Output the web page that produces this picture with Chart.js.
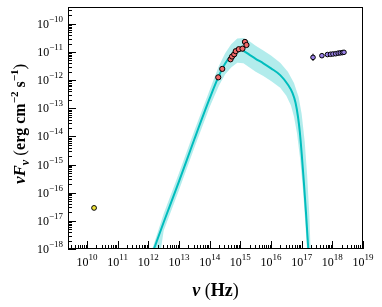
<!DOCTYPE html>
<html>
<head>
<meta charset="utf-8">
<script src="https://cdn.jsdelivr.net/npm/chart.js@4.4.0/dist/chart.umd.min.js"></script>
<style>
  html, body { margin: 0; padding: 0; background: #fff; }
  #wrap { width: 382px; height: 307px; }
</style>
</head>
<body>
<div id="wrap"><canvas id="sed"></canvas></div>
<script>
// log10 of frequency (Hz) and log10 of nuFnu (erg cm^-2 s^-1)
const modelLogNu = [12.0, 12.5, 13.0, 13.5, 14.0, 14.3, 14.5, 14.7, 14.85, 14.95, 15.1, 15.3, 15.5, 15.75, 16.0, 16.3, 16.56, 16.7, 16.8, 16.88, 16.94, 17.0, 17.07, 17.14, 17.21, 17.26];
const modelLogF  = [-18.55, -17.05, -15.6, -14.1, -12.65, -11.85, -11.42, -11.12, -10.97, -10.92, -10.96, -11.1, -11.24, -11.4, -11.58, -11.82, -12.17, -12.45, -12.8, -13.3, -13.85, -14.6, -15.6, -16.7, -17.9, -18.8];

// uncertainty band edges
const bandUpLogNu = [11.95, 12.5, 13.0, 13.5, 14.0, 14.3, 14.5, 14.7, 14.9, 15.1, 15.3, 15.5, 15.75, 16.0, 16.3, 16.55, 16.75, 16.9, 17.0, 17.1, 17.18, 17.25, 17.3, 17.33];
const bandUpLogF  = [-18.6, -16.75, -15.3, -13.8, -12.35, -11.5, -11.05, -10.72, -10.52, -10.5, -10.62, -10.78, -10.95, -11.12, -11.38, -11.7, -12.1, -12.6, -13.2, -14.2, -15.4, -16.8, -18.3, -18.8];
const bandLoLogNu = [12.3, 12.5, 13.0, 13.5, 14.0, 14.3, 14.5, 14.7, 14.9, 15.1, 15.3, 15.5, 15.75, 16.0, 16.3, 16.5, 16.65, 16.75, 16.85, 16.95, 17.05, 17.12, 17.18, 17.2];
const bandLoLogF  = [-18.8, -17.35, -15.9, -14.4, -12.95, -12.2, -11.8, -11.55, -11.38, -11.4, -11.55, -11.7, -11.85, -12.03, -12.27, -12.55, -12.9, -13.3, -13.9, -14.8, -16.0, -17.1, -18.1, -18.8];

const radioLogNu = [10.23];
const radioLogF  = [-16.54];

const optLogNu = [14.28, 14.41, 14.68, 14.73, 14.80, 14.85, 14.95, 15.07, 15.15, 15.20];
const optLogF  = [-11.90, -11.60, -11.26, -11.16, -11.08, -10.97, -10.90, -10.88, -10.64, -10.75];

const xrayLogNu = [17.37, 17.66, 17.84, 17.94, 18.02, 18.11, 18.19, 18.26, 18.33, 18.38];
const xrayLogF  = [-11.19, -11.13, -11.09, -11.08, -11.07, -11.06, -11.04, -11.03, -11.02, -11.01];
const xrayErrF  = [0.13, 0, 0, 0, 0, 0, 0, 0, 0, 0];

const xTickExp = [10, 11, 12, 13, 14, 15, 16, 17, 18, 19];
const yTickExp = [-18, -17, -16, -15, -14, -13, -12, -11, -10];

const pts = (lx, ly) => lx.map((v, i) => ({ x: 10 ** v, y: 10 ** ly[i] }));

const bandShape = pts(bandUpLogNu, bandUpLogF).concat(pts(bandLoLogNu, bandLoLogF).reverse());

const errSegs = [];
xrayLogNu.forEach((v, i) => {
  if (xrayErrF[i] > 0) {
    errSegs.push({ x: 10 ** v, y: 10 ** (xrayLogF[i] - xrayErrF[i]) });
    errSegs.push({ x: 10 ** v, y: 10 ** (xrayLogF[i] + xrayErrF[i]) });
    errSegs.push({ x: 10 ** v, y: null });
  }
});

const SERIF = '"Liberation Serif", "DejaVu Serif", serif';

function drawPieces(ctx, pieces, x0, y0) {
  let x = x0;
  pieces.forEach(p => {
    ctx.font = p.font;
    ctx.fillText(p.t, x, y0 + (p.dy || 0));
    x += ctx.measureText(p.t).width;
  });
}
function piecesWidth(ctx, pieces) {
  let w = 0;
  pieces.forEach(p => { ctx.font = p.font; w += ctx.measureText(p.t).width; });
  return w;
}

const axesPlugin = {
  id: 'axesPlugin',
  afterDraw(chart) {
    const ctx = chart.ctx;
    const a = chart.chartArea;
    const xs = chart.scales.x, ys = chart.scales.y;
    ctx.save();
    ctx.strokeStyle = '#000';
    ctx.fillStyle = '#000';
    ctx.lineWidth = 1;
    ctx.strokeRect(a.left + 0.5, a.top + 0.5, a.right - a.left - 1, a.bottom - a.top - 1);

    // inward ticks
    ctx.beginPath();
    for (let n = 9; n <= 19; n++) {
      for (let k = 1; k <= 9; k++) {
        const v = k * 10 ** n;
        if (v < xs.min || v > xs.max) continue;
        const px = Math.round(xs.getPixelForValue(v)) + 0.5;
        const len = k === 1 ? 8 : 4;
        ctx.moveTo(px, a.bottom);
        ctx.lineTo(px, a.bottom - len);
      }
    }
    for (let n = -19; n <= -9; n++) {
      for (let k = 1; k <= 9; k++) {
        const v = k * 10 ** n;
        if (v < ys.min || v > ys.max) continue;
        const py = Math.round(ys.getPixelForValue(v)) + 0.5;
        const len = k === 1 ? 8 : 4;
        ctx.moveTo(a.left, py);
        ctx.lineTo(a.left + len, py);
      }
    }
    ctx.stroke();

    // tick labels
    const base = '12px ' + SERIF, sup = '9px ' + SERIF;
    ctx.textBaseline = 'alphabetic';
    xTickExp.forEach(e => {
      const px = xs.getPixelForValue(10 ** e);
      const pcs = [{ t: '10', font: base }, { t: String(e), font: sup, dy: -6 }];
      const w = piecesWidth(ctx, pcs);
      drawPieces(ctx, pcs, px - w / 2, a.bottom + 17);
    });
    yTickExp.forEach(e => {
      const py = ys.getPixelForValue(10 ** e);
      const pcs = [{ t: '10', font: base }, { t: '\u2212' + String(-e), font: sup, dy: -6 }];
      const w = piecesWidth(ctx, pcs);
      drawPieces(ctx, pcs, a.left - 5 - w, py + 4);
    });

    // axis titles
    const bi = s => 'italic bold ' + s + 'px ' + SERIF;
    const b = s => 'bold ' + s + 'px ' + SERIF;
    const r = s => s + 'px ' + SERIF;
    const xt = [{ t: '\u03bd', font: bi(18) }, { t: ' (', font: r(18) }, { t: 'Hz', font: b(18) }, { t: ')', font: r(18) }];
    const xw = piecesWidth(ctx, xt);
    drawPieces(ctx, xt, (a.left + a.right) / 2 - xw / 2, 296);

    const yt = [
      { t: '\u03bd', font: bi(17) }, { t: 'F', font: bi(17) }, { t: '\u03bd', font: bi(12), dy: 4 },
      { t: ' (', font: r(17) }, { t: 'erg cm', font: b(16) }, { t: '\u22122', font: b(11), dy: -7 },
      { t: ' s', font: b(16) }, { t: '\u22121', font: b(11), dy: -7 }, { t: ')', font: r(17) }
    ];
    const yw = piecesWidth(ctx, yt);
    ctx.translate(25, 124);
    ctx.rotate(-Math.PI / 2);
    drawPieces(ctx, yt, -yw / 2, 0);
    ctx.restore();
  }
};

new Chart(document.getElementById('sed'), {
  type: 'scatter',
  data: {
    datasets: [
      {
        label: 'band',
        data: bandShape,
        showLine: true,
        fill: 'shape',
        backgroundColor: 'rgba(0,191,191,0.3)',
        borderWidth: 0,
        pointRadius: 0,
        tension: 0,
        order: 5
      },
      {
        label: 'model',
        data: pts(modelLogNu, modelLogF),
        showLine: true,
        borderColor: '#00bdbd',
        borderWidth: 2,
        pointRadius: 0,
        cubicInterpolationMode: 'monotone',
        order: 4
      },
      {
        label: 'radio',
        data: pts(radioLogNu, radioLogF),
        backgroundColor: '#f3e63a',
        borderColor: '#000',
        borderWidth: 1,
        pointRadius: 2.4,
        order: 1
      },
      {
        label: 'optical',
        data: pts(optLogNu, optLogF),
        backgroundColor: '#f26a6a',
        borderColor: '#000',
        borderWidth: 1,
        pointRadius: 2.6,
        order: 1
      },
      {
        label: 'xerr',
        data: errSegs,
        showLine: true,
        spanGaps: false,
        borderColor: '#000',
        borderWidth: 1,
        pointRadius: 0,
        order: 2
      },
      {
        label: 'xray',
        data: pts(xrayLogNu, xrayLogF),
        backgroundColor: '#9a82e8',
        borderColor: '#000',
        borderWidth: 1,
        pointRadius: 2.3,
        order: 1
      }
    ]
  },
  options: {
    responsive: true,
    maintainAspectRatio: false,
    animation: false,
    layout: { padding: { top: 7, right: 19, left: 0, bottom: 0 } },
    plugins: { legend: { display: false }, tooltip: { enabled: false } },
    scales: {
      x: {
        type: 'logarithmic',
        min: 10 ** 9.38,
        max: 1e19,
        grid: { display: false },
        border: { display: false },
        ticks: { display: false },
        afterFit: s => { s.height = 58; }
      },
      y: {
        type: 'logarithmic',
        min: 1e-18,
        max: 10 ** -9.4,
        grid: { display: false },
        border: { display: false },
        ticks: { display: false },
        afterFit: s => { s.width = 68; }
      }
    }
  },
  plugins: [axesPlugin]
});
</script>
</body>
</html>
